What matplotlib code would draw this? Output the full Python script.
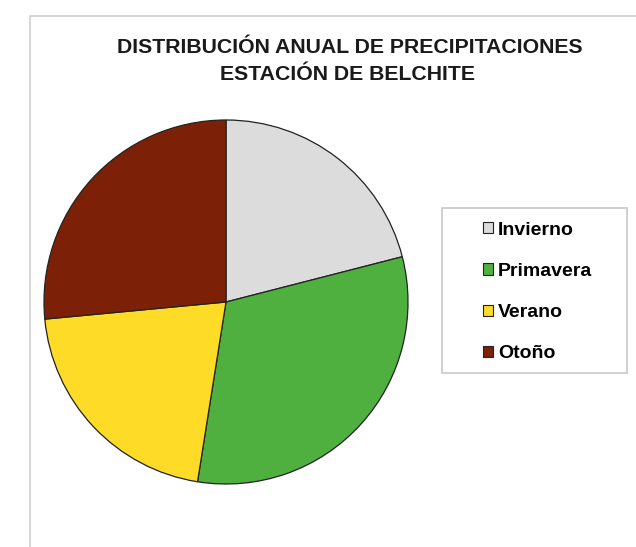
import matplotlib.pyplot as plt
from matplotlib.patches import Patch, Rectangle

# Distribución estacional (%) de la precipitación anual
estaciones = ['Invierno', 'Primavera', 'Verano', 'Otoño']
porcentajes = [21.0, 31.5, 21.0, 26.5]
colores = ['#dcdcdc', '#4fb040', '#fddb26', '#7c2108']

W, H = 636, 547
fig = plt.figure(figsize=(W / 100, H / 100), dpi=100)
plt.rcParams['font.family'] = ['Liberation Sans', 'DejaVu Sans']


def caja(x0, y0, x1, y1, **kw):
    # rectángulo en píxeles (origen arriba a la izquierda)
    fig.patches.append(Rectangle((x0 / W, 1 - y1 / H), (x1 - x0) / W, (y1 - y0) / H,
                                 transform=fig.transFigure, fill=False, **kw))


# marco del gráfico
caja(30, 16, 700, 600, edgecolor='#cfcfcf', linewidth=1.2)

fig.text(350 / W, 1 - 48 / H, 'DISTRIBUCIÓN ANUAL DE PRECIPITACIONES',
         ha='center', va='center', fontsize=15.3, fontweight='bold', color='#1a1a1a')
fig.text(348 / W, 1 - 75 / H, 'ESTACIÓN DE BELCHITE',
         ha='center', va='center', fontsize=15.3, fontweight='bold', color='#1a1a1a')

# tarta: centro (226, 302), radio 182 px
cx, cy, r = 226, 302, 182
ax = fig.add_axes([(cx - r) / W, 1 - (cy + r) / H, 2 * r / W, 2 * r / H])
ax.pie(porcentajes, colors=colores, startangle=90, counterclock=False,
       wedgeprops=dict(edgecolor='#222222', linewidth=0.9))
ax.set_xlim(-1, 1)
ax.set_ylim(-1, 1)
ax.set_aspect('equal')
ax.axis('off')

# leyenda: caja aparte, entradas centradas dentro
caja(442, 208, 627, 373, edgecolor='#c8c8c8', linewidth=1.2)
handles = [Patch(facecolor=c, edgecolor='#222222', linewidth=0.8) for c in colores]
fig.legend(handles, estaciones, loc='center left',
           bbox_to_anchor=(483 / W, 1 - 292 / H),
           frameon=False, handlelength=0.52, handleheight=0.52, handletextpad=0.25,
           labelspacing=1.25, borderpad=0, borderaxespad=0,
           prop=dict(size=14, weight='bold'))

fig.savefig('out.png', dpi=100, facecolor='white')
